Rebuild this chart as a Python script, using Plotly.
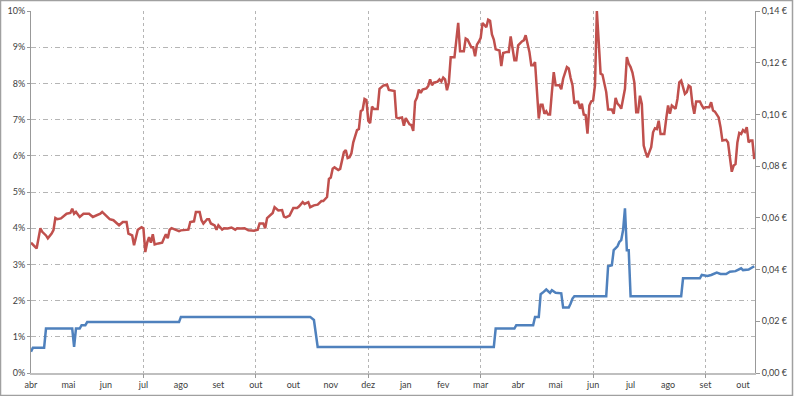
import plotly.graph_objects as go

# ---------------- data ----------------
month_labels = ["abr", "mai", "jun", "jul", "ago", "set", "out", "out", "nov", "dez",
                "jan", "fev", "mar", "abr", "mai", "jun", "jul", "ago", "set", "out"]
label_step = 20          # trading days between category labels
grid_step = 60           # trading days between tick marks / vertical gridlines
n_days = 387

red_day = [0, 1, 3, 5, 6, 8, 9, 11, 12, 13, 14, 16, 18, 19, 21, 22, 23, 24, 26, 28, 30, 31, 33, 35, 37, 38, 40,
           42, 44, 46, 47, 49, 51, 52, 54, 55, 56, 57, 59, 60, 61, 62, 63, 64, 65, 66, 68, 70, 71, 72, 73, 74,
           75, 77, 79, 80, 82, 84, 85, 87, 88, 89, 90, 91, 92, 94, 95, 96, 98, 99, 100, 102, 103, 105, 107, 109,
           110, 112, 114, 116, 118, 119, 121, 122, 124, 125, 126, 127, 129, 130, 132, 134, 135, 136, 138, 140,
           142, 143, 145, 146, 148, 149, 151, 153, 155, 156, 158, 159, 160, 161, 162, 164, 165, 167, 168, 169,
           170, 171, 172, 174, 175, 176, 177, 178, 179, 180, 181, 182, 183, 185, 186, 188, 190, 191, 193, 194,
           195, 196, 198, 199, 200, 202, 203, 204, 205, 206, 207, 208, 209, 211, 212, 213, 214, 215, 217, 218,
           219, 220, 221, 222, 223, 224, 226, 228, 229, 231, 232, 233, 235, 236, 237, 238, 239, 240, 241, 243,
           244, 245, 246, 247, 248, 250, 251, 252, 254, 255, 256, 257, 258, 259, 260, 262, 263, 264, 265, 266,
           267, 268, 269, 270, 271, 272, 273, 274, 275, 276, 277, 278, 279, 280, 282, 283, 284, 286, 287, 288,
           289, 290, 291, 292, 293, 294, 295, 296, 297, 298, 299, 300, 301, 302, 303, 304, 305, 306, 307, 308,
           310, 311, 312, 313, 314, 315, 317, 318, 319, 320, 321, 322, 323, 324, 325, 326, 327, 328, 329, 330,
           331, 332, 333, 334, 335, 336, 338, 339, 340, 341, 342, 344, 345, 346, 347, 349, 350, 351, 352, 353,
           354, 355, 357, 358, 359, 360, 362, 363, 364, 365, 367, 368, 369, 371, 372, 373, 374, 375, 376, 377,
           378, 379, 380, 381, 382, 383, 384, 385, 386]
red_pct = [3.6, 3.55, 3.44, 4.0, 3.9, 3.8, 3.72, 3.85, 3.95, 4.28, 4.25, 4.27, 4.36, 4.4, 4.42, 4.54, 4.4, 4.45,
           4.31, 4.4, 4.4, 4.4, 4.31, 4.36, 4.4, 4.45, 4.36, 4.25, 4.22, 4.13, 4.08, 4.17, 4.17, 3.85, 3.8, 3.53,
           3.8, 3.96, 4.03, 4.0, 3.34, 3.6, 3.75, 3.6, 3.83, 3.55, 3.58, 3.6, 3.72, 3.83, 3.72, 3.96, 4.0, 3.96,
           3.92, 3.94, 3.96, 3.96, 4.17, 4.19, 4.45, 4.46, 4.45, 4.22, 4.13, 4.25, 4.25, 4.13, 4.08, 3.96, 4.08,
           3.96, 4.0, 3.99, 4.02, 3.96, 4.0, 3.99, 4.0, 3.94, 3.92, 3.93, 3.96, 4.13, 4.13, 4.0, 4.28, 4.33, 4.42,
           4.58, 4.49, 4.5, 4.32, 4.3, 4.35, 4.56, 4.56, 4.6, 4.72, 4.67, 4.72, 4.58, 4.63, 4.65, 4.75, 4.75, 4.86,
           5.36, 5.4, 5.64, 5.68, 5.61, 5.64, 6.1, 6.16, 5.94, 5.96, 6.07, 6.37, 6.71, 6.74, 7.23, 7.27, 7.57,
           7.54, 6.97, 6.9, 7.36, 7.29, 7.29, 7.85, 7.94, 7.97, 7.82, 7.8, 7.79, 7.06, 7.04, 7.06, 6.83, 7.04,
           6.87, 6.85, 6.69, 7.5, 7.61, 7.83, 7.74, 7.83, 7.86, 7.93, 8.11, 7.95, 8.02, 8.05, 8.11, 8.05, 8.16,
           8.11, 7.81, 8.02, 8.72, 8.72, 9.67, 8.89, 8.89, 9.24, 9.21, 9.0, 9.0, 8.75, 9.07, 9.15, 9.26, 9.67,
           9.55, 9.76, 9.73, 9.35, 9.21, 8.94, 8.91, 8.48, 8.84, 8.87, 8.87, 9.3, 8.89, 8.64, 8.64, 9.05, 9.16,
           9.19, 9.33, 9.07, 8.87, 8.5, 8.5, 8.59, 7.85, 7.03, 7.41, 7.41, 7.16, 7.23, 7.14, 7.14, 7.76, 8.31,
           7.95, 7.95, 7.84, 8.13, 8.45, 8.41, 8.15, 7.95, 7.44, 7.49, 7.49, 7.3, 7.44, 7.14, 7.12, 6.61, 7.39,
           7.5, 7.53, 7.95, 10.0, 9.24, 8.27, 8.24, 7.95, 7.76, 7.28, 7.28, 7.16, 7.6, 7.44, 7.39, 7.3, 7.85,
           8.73, 8.55, 8.45, 8.3, 8.03, 7.2, 7.2, 7.66, 7.43, 6.28, 6.1, 5.96, 6.1, 6.24, 6.65, 6.76, 6.74, 6.97,
           6.6, 6.6, 7.02, 7.39, 7.16, 7.39, 7.3, 7.57, 8.03, 8.08, 7.71, 7.76, 7.94, 7.9, 7.43, 7.16, 7.5, 7.5,
           7.39, 7.31, 7.34, 7.34, 7.48, 7.25, 7.22, 7.06, 6.79, 6.42, 6.44, 6.37, 5.96, 5.56, 5.73, 5.77, 6.37,
           6.63, 6.6, 6.71, 6.66, 6.79, 6.37, 6.42, 6.42, 5.91]

blue_day = [0, 1, 7, 8, 22, 23, 24, 26, 27, 29, 30, 79, 80, 149, 151, 153, 247, 248, 258, 259, 268, 269, 271,
            272, 273, 275, 277, 278, 280, 283, 284, 287, 288, 289, 290, 307, 308, 310, 311, 313, 314, 315, 316,
            317, 318, 319, 320, 347, 348, 357, 358, 361, 363, 366, 368, 371, 373, 376, 379, 380, 383, 386]
blue_eur = [0.0082, 0.0098, 0.0098, 0.0172, 0.0172, 0.0101, 0.0172, 0.0172, 0.0185, 0.0185, 0.0197, 0.0197,
            0.0217, 0.0217, 0.0205, 0.0101, 0.0101, 0.0172, 0.0172, 0.0185, 0.0185, 0.0217, 0.0217, 0.0305,
            0.031, 0.0323, 0.031, 0.032, 0.031, 0.0308, 0.0253, 0.0253, 0.0269, 0.0288, 0.0297, 0.0297, 0.0413,
            0.0417, 0.0475, 0.049, 0.0507, 0.0514, 0.0553, 0.0637, 0.0475, 0.0475, 0.0297, 0.0297, 0.0366,
            0.0366, 0.0379, 0.0375, 0.0379, 0.0388, 0.0383, 0.0383, 0.0392, 0.0394, 0.0405, 0.0398, 0.040,
            0.0413]

left_ticks = list(range(0, 11))
right_ticks = [0.00, 0.02, 0.04, 0.06, 0.08, 0.10, 0.12, 0.14]

# ---------------- figure ----------------
FONT = "Lato, 'Open Sans', sans-serif"
FS = 9
x_range = [0, 386.4]

fig = go.Figure()
fig.add_trace(go.Scatter(x=red_day, y=red_pct, mode="lines", xaxis="x", yaxis="y",
                         line=dict(color="#C0504D", width=2.5), showlegend=False))
fig.add_trace(go.Scatter(x=blue_day, y=blue_eur, mode="lines", xaxis="x2", yaxis="y2",
                         line=dict(color="#4F81BD", width=2.5), showlegend=False))

fig.update_layout(
    width=794, height=396,
    margin=dict(l=31, r=39, t=11, b=23, autoexpand=False),
    paper_bgcolor="white", plot_bgcolor="white",
    font=dict(family=FONT, size=FS, color="#404040"),
    xaxis=dict(range=x_range, tickmode="array", automargin=False,
               tickvals=[i * label_step for i in range(len(month_labels))],
               ticktext=month_labels, showgrid=False, zeroline=False,
               showline=True, linecolor="#BFBFBF", linewidth=2, ticks="",
               ticklabelstandoff=2,
               tickfont=dict(size=FS, color="#404040")),
    xaxis2=dict(range=x_range, overlaying="x", anchor="y2", tickmode="array", automargin=False,
                tickvals=[i * grid_step for i in range(1, n_days // grid_step + 1)],
                showticklabels=False, showgrid=True, gridcolor="#B5B5B5", griddash="3px,3px",
                gridwidth=1, ticks="outside", ticklen=4, tickcolor="#999999",
                zeroline=False, showline=False),
    yaxis=dict(range=[0, 10], tickmode="array", tickvals=left_ticks, automargin=False,
               ticktext=[f"{v}%" for v in left_ticks], showgrid=True, gridcolor="#B5B5B5",
               griddash="5px,3px,1px,3px", gridwidth=1, zeroline=False, showline=True,
               linecolor="#999999", linewidth=1, ticks="outside", ticklen=3, tickcolor="#999999",
               tickfont=dict(size=FS, color="#404040")),
    yaxis2=dict(range=[0, 0.14], overlaying="y", side="right", tickmode="array", automargin=False,
                tickvals=right_ticks,
                ticktext=[f"{v:.2f} €".replace(".", ",") for v in right_ticks],
                showgrid=False, zeroline=False, showline=True, linecolor="#999999",
                linewidth=1, ticks="outside", ticklen=4, tickcolor="#999999",
                tickfont=dict(size=FS, color="#404040")),
    shapes=[dict(type="rect", xref="paper", yref="paper",
                 x0=-30.5 / 724, x1=1 + 37.5 / 724, y0=-22.5 / 362, y1=1 + 10.5 / 362,
                 line=dict(color="#A0A0A0", width=1.5), fillcolor="rgba(0,0,0,0)", layer="below")],
)

fig.write_html("out.html",
               config={"displayModeBar": False},
               post_script="document.body.style.margin='0';document.body.style.padding='0';")
